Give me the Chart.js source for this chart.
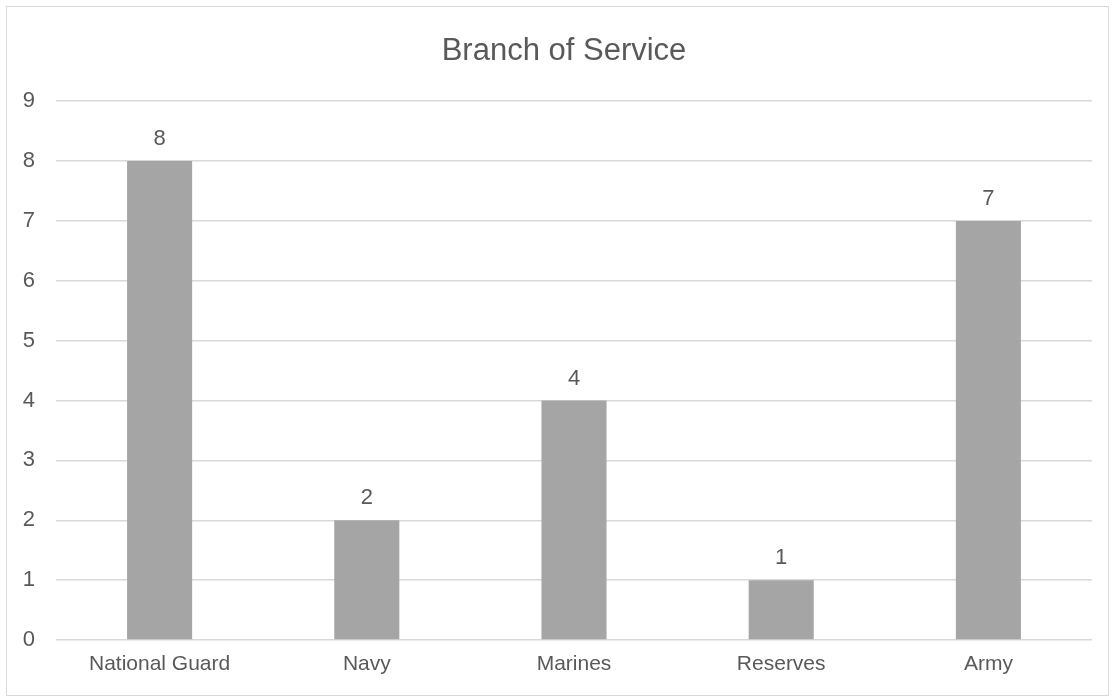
<!DOCTYPE html>
<html>
<head>
<meta charset="utf-8">
<script src="https://cdn.jsdelivr.net/npm/chart.js@4/dist/chart.umd.min.js"></script>
<style>
  html, body { margin: 0; padding: 0; background: #fff; }
  #wrap { position: relative; width: 1112px; height: 698px; }
</style>
</head>
<body>
<div id="wrap"><canvas id="bar-chart" width="1112" height="698"></canvas></div>
<script>
const categories = ["National Guard", "Navy", "Marines", "Reserves", "Army"];
const counts = [8, 2, 4, 1, 7];
const yTicks = [0, 1, 2, 3, 4, 5, 6, 7, 8, 9];

const fontFamily = '"Liberation Sans Narrow", "Arial Narrow", "Liberation Sans", Arial, sans-serif';
const textColor = '#595959';

// values drawn over each bar
const barLabels = {
  id: 'barLabels',
  afterDatasetsDraw(chart) {
    const ctx = chart.ctx;
    const meta = chart.getDatasetMeta(0);
    ctx.save();
    ctx.font = '22px ' + fontFamily;
    ctx.fillStyle = textColor;
    ctx.textAlign = 'center';
    ctx.textBaseline = 'alphabetic';
    meta.data.forEach((bar, i) => {
      ctx.fillText(String(counts[i]), bar.x, bar.y - 16);
    });
    ctx.restore();
  }
};

// thin frame round the chart
const frame = {
  id: 'frame',
  beforeDraw(chart) {
    const ctx = chart.ctx;
    ctx.save();
    ctx.strokeStyle = '#d9d9d9';
    ctx.lineWidth = 1;
    ctx.strokeRect(6.5, 6.5, 1102, 689);
    ctx.restore();
  }
};

new Chart(document.getElementById('bar-chart'), {
  type: 'bar',
  data: {
    labels: categories,
    datasets: [{
      label: 'Branch of Service',
      data: counts,
      backgroundColor: '#a5a5a5',
      borderWidth: 0,
      categoryPercentage: 1,
      barPercentage: 0.314
    }]
  },
  options: {
    responsive: false,
    animation: false,
    layout: { padding: { left: 16, right: 0, top: 0, bottom: 0 } },
    plugins: {
      legend: { display: false },
      tooltip: { enabled: false },
      title: {
        display: true,
        text: 'Branch of Service',
        color: textColor,
        font: { family: fontFamily, size: 31, weight: 'normal' },
        padding: { top: 33, bottom: 31 }
      }
    },
    scales: {
      x: {
        grid: { display: false },
        border: { display: false },
        ticks: {
          color: textColor,
          font: { family: fontFamily, size: 21 },
          padding: 4,
          maxRotation: 0
        },
        afterFit(scale) { scale.height = 58; }
      },
      y: {
        min: 0,
        max: 9,
        afterBuildTicks(scale) { scale.ticks = yTicks.map(v => ({ value: v })); },
        grid: { color: '#d9d9d9', lineWidth: 1.5, drawTicks: false },
        border: { display: false },
        ticks: {
          color: textColor,
          font: { family: fontFamily, size: 22 },
          padding: 21
        },
        afterFit(scale) { scale.width = 40; }
      },
      yRight: {
        position: 'right',
        display: true,
        grid: { display: false },
        border: { display: false },
        ticks: { display: false },
        afterFit(scale) { scale.width = 20; }
      }
    }
  },
  plugins: [frame, barLabels]
});
</script>
</body>
</html>
